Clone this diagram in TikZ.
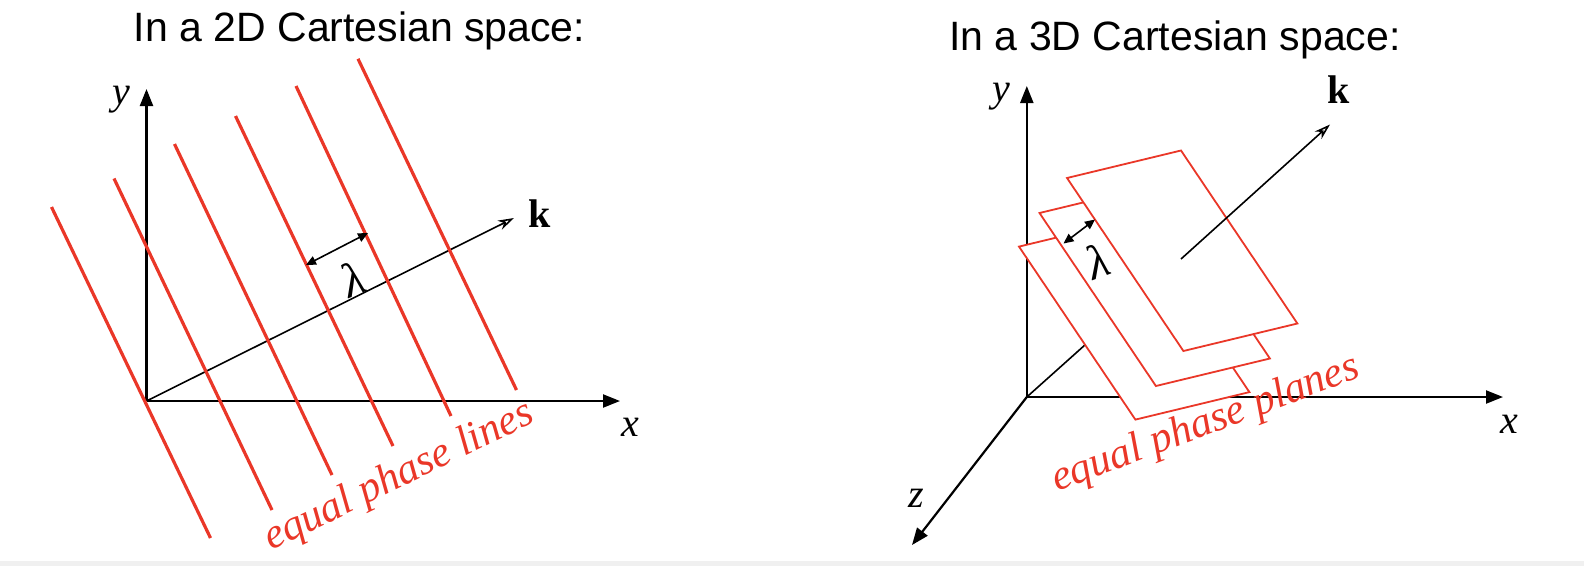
\documentclass[tikz,border=0pt]{standalone}
\usepackage{fontspec}
\setmainfont{Liberation Serif}
\newfontfamily\titlefont{Liberation Sans}
\usetikzlibrary{arrows.meta}
\definecolor{phasered}{RGB}{234,55,40}
\tikzset{
  axis/.style={draw=black, line width=2.2pt, -{Triangle[length=17pt,width=13pt]}},
  wavevec/.style={draw=black, line width=1.6pt, -{Stealth[open,length=16pt,width=10pt,inset=5pt]}},
  lamarrow/.style={draw=black, line width=1.6pt, {Triangle[length=10pt,width=9pt]}-{Triangle[length=10pt,width=9pt]}},
  phaseline/.style={draw=phasered, line width=3.2pt},
  phaseplane/.style={draw=phasered, line width=1.8pt, fill=white},
  title/.style={font=\titlefont\fontsize{41}{48}\selectfont, anchor=base},
  mathlab/.style={font=\fontsize{40}{46}\selectfont\itshape, inner sep=0pt},
  lamlab/.style={font=\fontsize{48}{54}\selectfont\itshape, inner sep=0pt},
  klab/.style={font=\fontsize{40}{46}\selectfont\bfseries, inner sep=0pt},
  phaselab/.style={font=\fontsize{42.5}{48}\selectfont\itshape, text=phasered, anchor=base west, inner sep=0pt}
}
\begin{document}
\begin{tikzpicture}[x=1pt,y=-1pt]
\useasboundingbox (0,0) rectangle (1584,566);
\fill[gray!12] (0,561) rectangle (1584,566);

% ---------- left: 2D ----------
\node[title] (t1) at (359.5,41.5) {In a 2D Cartesian space:};
\coordinate (O1) at (146.5,401);
\coordinate (Y1) at (146.5,89);
\coordinate (X1) at (620,401);
\coordinate (K1) at (514,218);
\node[mathlab] (ylab1) at (121,100) {y};
\node[mathlab] (xlab1) at (630,427) {x};
\node[klab] (klab1) at (540,214) {k};

\draw[axis] (O1) -- (Y1);
\draw[axis] (O1) -- (X1);
\draw[wavevec] (O1) -- (K1);

\coordinate (L1a) at (51.5,207);   \coordinate (L1b) at (210.5,538);
\coordinate (L2a) at (114,178.5);  \coordinate (L2b) at (272,510);
\coordinate (L3a) at (174.5,144);  \coordinate (L3b) at (332,475);
\coordinate (L4a) at (235.5,116);  \coordinate (L4b) at (393,446);
\coordinate (L5a) at (296,86);     \coordinate (L5b) at (451,416);
\coordinate (L6a) at (358,58.8);   \coordinate (L6b) at (516.5,390);
\foreach \i in {1,...,6} { \draw[phaseline] (L\i a) -- (L\i b); }

\coordinate (La1) at (306,265);
\coordinate (Lb1) at (368,233);
\draw[lamarrow] (La1) -- (Lb1);
\node[lamlab, rotate=22] (lam1) at (353,279) {λ};
\node[phaselab, rotate=26] (eq1) at (271,551) {equal phase lines};

% ---------- right: 3D ----------
\node[title] (t2) at (1175,50.5) {In a 3D Cartesian space:};
\coordinate (O2) at (1026.8,397);
\coordinate (Y2) at (1026.8,86);
\coordinate (X2) at (1503,397);
\coordinate (Z2) at (912,545);
\coordinate (K2) at (1330,124.5);
\coordinate (M2) at (1181,259);
\node[mathlab] (ylab2) at (1001,97) {y};
\node[mathlab] (xlab2) at (1509,424) {x};
\node[mathlab] (zlab2) at (916,498) {z};
\node[klab] (klab2) at (1339,90) {k};

\draw[axis] (O2) -- (Y2);
\draw[axis] (O2) -- (X2);
\draw[axis] (O2) -- (Z2);
\draw[black, line width=1.6pt] (O2) -- (M2);

% planes: back (C), middle (B), front (A)
\draw[phaseplane] (1019,246.6) -- (1133,219.1) -- (1249.4,392.1) -- (1135.4,419.6) -- cycle;
\draw[phaseplane] (1039.5,213) -- (1153.5,185.5) -- (1269.9,358.5) -- (1155.9,386) -- cycle;
\draw[phaseplane] (1067,178) -- (1181,150.5) -- (1297.4,323.5) -- (1183.4,351) -- cycle;

\draw[wavevec] (M2) -- (K2);

\coordinate (La2) at (1063.5,243.5);
\coordinate (Lb2) at (1095,219.5);
\draw[lamarrow] (La2) -- (Lb2);
\node[lamlab, rotate=20] (lam2) at (1097,261) {λ};
\node[phaselab, rotate=20.7] (eq2) at (1057,492) {equal phase planes};
\end{tikzpicture}
\end{document}
